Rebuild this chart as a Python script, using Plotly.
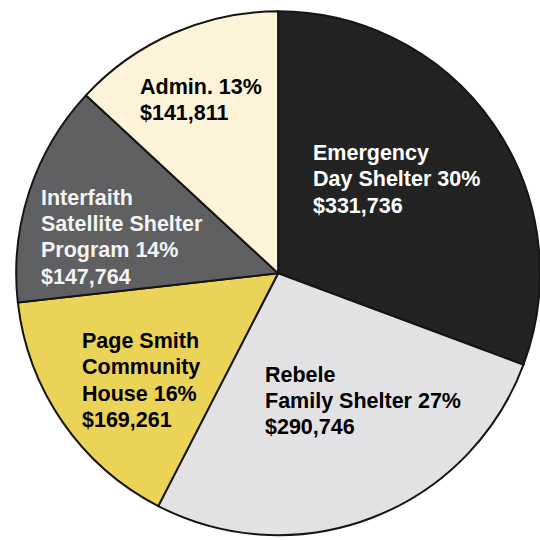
import plotly.graph_objects as go

# ---- data ----
categories = ["Emergency Day Shelter", "Rebele Family Shelter", "Page Smith Community House",
              "Interfaith Satellite Shelter Program", "Admin."]
amounts = [331736, 290746, 169261, 147764, 141811]
percents = [30, 27, 16, 14, 13]
label_lines = [
    ["Emergency", "Day Shelter 30%", "$331,736"],
    ["Rebele", "Family Shelter 27%", "$290,746"],
    ["Page Smith", "Community", "House 16%", "$169,261"],
    ["Interfaith", "Satellite Shelter", "Program 14%", "$147,764"],
    ["Admin. 13%", "$141,811"],
]

# ---- styles ----
colors = ["#232323", "#e2e2e4", "#ebd357", "#606063", "#fcf3d8"]
text_colors = ["white", "black", "black", "#f4f4f4", "black"]
# label block positions (px from left, px of first line centre from top)
label_pos = [(311, 153), (263, 374.5), (80, 341), (39, 197.7), (138, 87)]
line_gap = 26.3
W = H = 540
FONT = "Liberation Sans, Arial, sans-serif"

fig = go.Figure(go.Pie(
    labels=categories,
    values=amounts,
    sort=False,
    direction="clockwise",
    rotation=0,
    textinfo="none",
    hoverinfo="label+value",
    marker=dict(colors=colors, line=dict(color="#151515", width=2)),
    domain=dict(x=[0.03, 1.0], y=[0.003, 0.985]),
    showlegend=False,
))

annotations = []
for lines, (px, py), tc in zip(label_lines, label_pos, text_colors):
    for i, ln in enumerate(lines):
        yy = py + i * line_gap
        annotations.append(dict(
            x=px / W, y=1 - yy / H, xref="paper", yref="paper",
            xanchor="left", yanchor="middle", showarrow=False,
            text="<b>" + ln + "</b>",
            font=dict(family=FONT, size=21.5, color=tc),
        ))

fig.update_layout(
    width=W, height=H,
    margin=dict(l=0, r=0, t=0, b=0),
    paper_bgcolor="white", plot_bgcolor="white",
    annotations=annotations,
)

fig.write_html("out.html")
